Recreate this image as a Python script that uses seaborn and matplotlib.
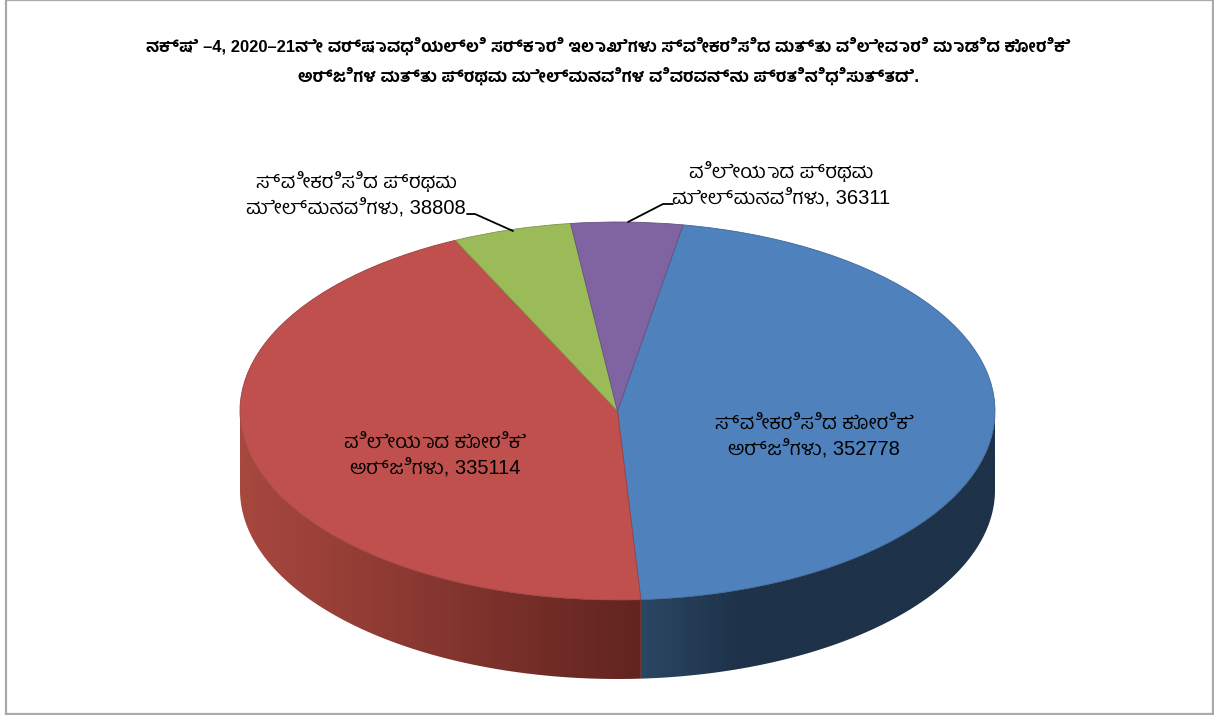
import numpy as np
import matplotlib
matplotlib.use("Agg")
import matplotlib.pyplot as plt
from matplotlib.colors import to_rgb, LinearSegmentedColormap
from matplotlib.lines import Line2D
from matplotlib.patches import Rectangle, Polygon
import seaborn as sns

title_lines = ["ನಕ್ಷೆ –4, 2020–21ನೇ ವರ್ಷಾವಧಿಯಲ್ಲಿ ಸರ್ಕಾರಿ ಇಲಾಖೆಗಳು ಸ್ವೀಕರಿಸಿದ ಮತ್ತು ವಿಲೇವಾರಿ ಮಾಡಿದ ಕೋರಿಕೆ",
               "ಅರ್ಜಿಗಳ ಮತ್ತು ಪ್ರಥಮ ಮೇಲ್ಮನವಿಗಳ ವಿವರವನ್ನು ಪ್ರತಿನಿಧಿಸುತ್ತದೆ."]
categories = ["ಸ್ವೀಕರಿಸಿದ ಕೋರಿಕೆ\nಅರ್ಜಿಗಳು", "ವಿಲೇಯಾದ ಕೋರಿಕೆ\nಅರ್ಜಿಗಳು",
              "ಸ್ವೀಕರಿಸಿದ ಪ್ರಥಮ\nಮೇಲ್ಮನವಿಗಳು", "ವಿಲೇಯಾದ ಪ್ರಥಮ\nಮೇಲ್ಮನವಿಗಳು"]
values = [352778, 335114, 38808, 36311]
top_colors = ["#4f81bd", "#c0504d", "#9bbb59", "#8064a2"]

sns.set_theme(style="white")
plt.rcParams["font.family"] = ["Liberation Sans", "Hind Mysuru", "DejaVu Sans"]

W, H = 1214, 715
fig = plt.figure(figsize=(W / 100, H / 100), dpi=100, facecolor="white")

def fx(x):
    return x / W

def fy(y):
    return 1 - y / H

fig.add_artist(Rectangle((fx(5.5), fy(713.5)), fx(1212.5) - fx(5.5), fy(0) - fy(713.5),
                         transform=fig.transFigure, fill=False, edgecolor="#a9a9a9", linewidth=1.6))

depth = 79 / 189
ax = fig.add_axes([fx(240), fy(679), fx(995) - fx(240), fy(222) - fy(679)])
wedges, _ = ax.pie(values, colors=sns.color_palette(top_colors), startangle=80,
                   counterclock=False, radius=1, center=(0, 0),
                   wedgeprops={"linewidth": 0.6, "zorder": 5})
for w, c in zip(wedges, top_colors):
    w.set_edgecolor(tuple(np.array(to_rgb(c)) * 0.8))

total = sum(values)
start_blue = 80.0
end_blue = start_blue - 360 * values[0] / total

def rim(a_start, a_stop, stops):
    th = np.radians(np.linspace(a_start, a_stop, 300))
    xs, ys = np.cos(th), np.sin(th)
    outline = np.column_stack([np.r_[xs, xs[::-1]], np.r_[ys, ys[::-1] - depth]])
    poly = Polygon(outline, closed=True, transform=ax.transData, facecolor="none", edgecolor="none")
    ax.add_patch(poly)
    cmap = LinearSegmentedColormap.from_list("rim", stops, N=256)
    grad = np.linspace(0, 1, 512).reshape(1, -1)
    im = ax.imshow(grad, cmap=cmap, extent=(xs.min(), xs.max(), -1 - depth, 1), aspect="auto",
                   zorder=2, interpolation="bilinear")
    im.set_clip_path(poly)

# the rim shows only on the front half of the disc
rim(end_blue, 0, [(0, "#2b4764"), (0.28, "#1e3249"), (1, "#1e3249")])
rim(end_blue, -180, [(0, "#a8483f"), (1, "#62241f")])
ax.set_aspect("auto")
ax.set_xlim(-1, 1)
ax.set_ylim(-1 - depth, 1)

kw = dict(ha="center", va="center", color="black", fontsize=14.5, linespacing=1.42)
label_pos = [(814, 436), (435, 455), (356, 194), (781, 184)]
for (x, y), cat, v in zip(label_pos, categories, values):
    fig.text(fx(x), fy(y), f"{cat}, {v}", **kw)

for xs, ys in [((467, 475, 513), (214, 214, 231)), ((628, 663, 673), (222, 204, 204))]:
    fig.add_artist(Line2D([fx(v) for v in xs], [fy(v) for v in ys],
                          transform=fig.transFigure, color="black", linewidth=1.3))

title_kw = dict(ha="center", va="center", fontsize=11.9, fontweight="bold", color="black")
fig.text(fx(608), fy(46), title_lines[0], **title_kw)
fig.text(fx(608), fy(76), title_lines[1], **title_kw)

fig.savefig("out.png", dpi=100, facecolor="white")
